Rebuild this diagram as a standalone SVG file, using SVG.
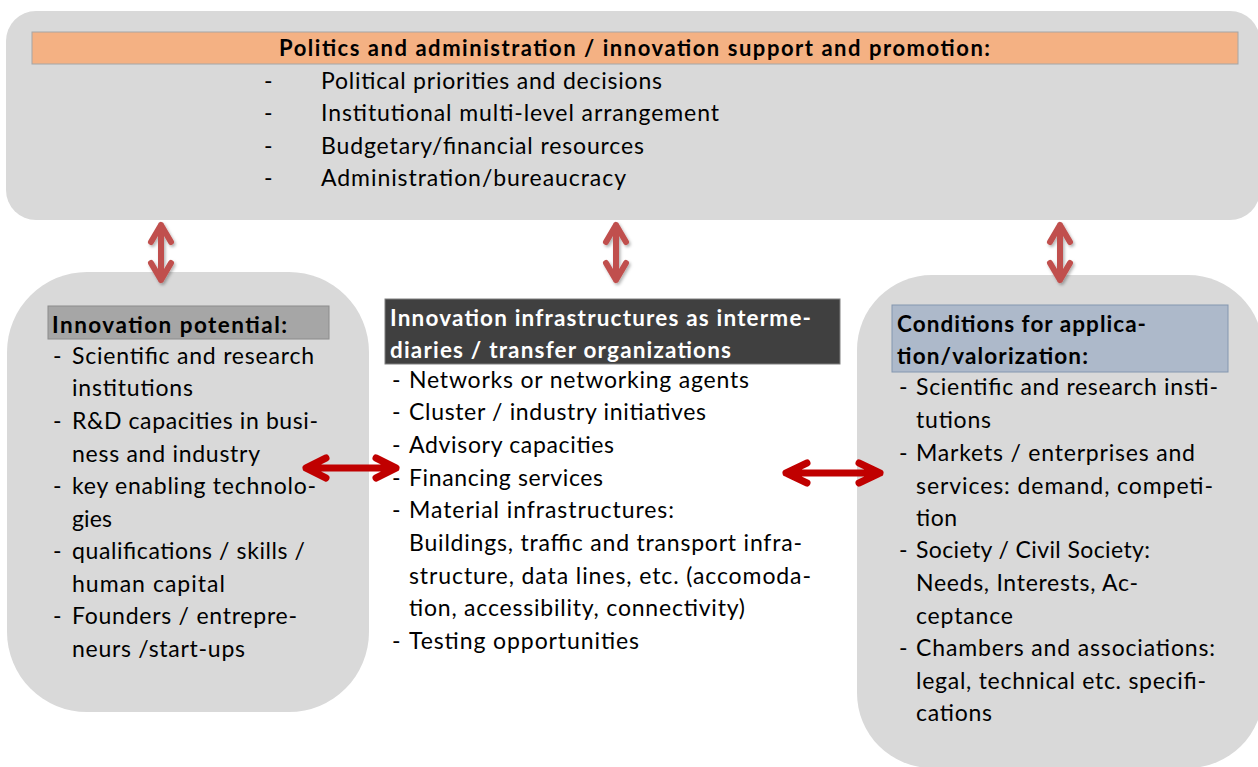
<svg xmlns="http://www.w3.org/2000/svg" width="1258" height="767" viewBox="0 0 1258 767">
<defs>
<style>
.box{fill:#d9d9d9}
.t{font-family:Lato,"Open Sans","Liberation Sans",sans-serif;font-size:23px;fill:#000}
.b{font-weight:bold;font-size:22.5px}
.w{fill:#fff}
.va{fill:none;stroke:#c0504d;stroke-width:6;stroke-linecap:round;stroke-linejoin:round}
.ha{fill:none;stroke:#c00000;stroke-width:7;stroke-linecap:round;stroke-linejoin:round}
</style>
<filter id="sh" x="-50%" y="-20%" width="200%" height="140%">
<feDropShadow dx="1.5" dy="2" stdDeviation="1.5" flood-color="#000" flood-opacity="0.3"/>
</filter>
</defs>
<rect width="1258" height="767" fill="#fff"/>

<g id="politics">
<rect class="box" x="6" y="11" width="1254" height="209" rx="30"/>
<rect x="32" y="32" width="1206" height="32" fill="#f4b183" stroke="#a6a6a6" stroke-width="1"/>
<text class="t b" x="279" y="56" style="font-size:22px" textLength="711">Politics and administration / innovation support and promotion:</text>
<text class="t" x="264" y="89">-</text>
<text class="t" x="321" y="89" textLength="341">Political priorities and decisions</text>
<text class="t" x="264" y="121">-</text>
<text class="t" x="321" y="121" textLength="398">Institutional multi-level arrangement</text>
<text class="t" x="264" y="154">-</text>
<text class="t" x="321" y="154" textLength="323">Budgetary/financial resources</text>
<text class="t" x="264" y="186">-</text>
<text class="t" x="321" y="186" textLength="305">Administration/bureaucracy</text>
</g>

<g id="potential">
<rect class="box" x="7" y="272" width="362" height="440" rx="80"/>
<rect x="48" y="306" width="281" height="33" fill="#a6a6a6" stroke="#8c8c8c" stroke-width="1"/>
<text class="t b" x="52" y="333" textLength="235">Innovation potential:</text>
<text class="t" x="53" y="364">-</text><text class="t" x="72" y="364" textLength="242">Scientific and research</text>
<text class="t" x="72" y="396" textLength="121">institutions</text>
<text class="t" x="53" y="429">-</text><text class="t" x="72" y="429" textLength="246">R&amp;D capacities in busi-</text>
<text class="t" x="72" y="462" textLength="188">ness and industry</text>
<text class="t" x="53" y="494">-</text><text class="t" x="72" y="494" textLength="244">key enabling technolo-</text>
<text class="t" x="72" y="527" textLength="40">gies</text>
<text class="t" x="53" y="559">-</text><text class="t" x="72" y="559" textLength="233">qualifications / skills /</text>
<text class="t" x="72" y="592" textLength="153">human capital</text>
<text class="t" x="53" y="624">-</text><text class="t" x="72" y="624" textLength="225">Founders / entrepre-</text>
<text class="t" x="72" y="657" textLength="173">neurs /start-ups</text>
</g>

<g id="infrastructures">
<rect x="385" y="299" width="455" height="65" fill="#404040" stroke="#7f7f7f" stroke-width="1"/>
<text class="t b w" x="390" y="326" textLength="421">Innovation infrastructures as interme-</text>
<text class="t b w" x="390" y="358" textLength="341">diaries / transfer organizations</text>
<text class="t" x="392" y="388">-</text><text class="t" x="409" y="388" textLength="340">Networks or networking agents</text>
<text class="t" x="392" y="420">-</text><text class="t" x="409" y="420" textLength="297">Cluster / industry initiatives</text>
<text class="t" x="392" y="453">-</text><text class="t" x="409" y="453" textLength="205">Advisory capacities</text>
<text class="t" x="392" y="486">-</text><text class="t" x="409" y="486" textLength="194">Financing services</text>
<text class="t" x="392" y="518">-</text><text class="t" x="409" y="518" textLength="265">Material infrastructures:</text>
<text class="t" x="409" y="551" textLength="393">Buildings, traffic and transport infra-</text>
<text class="t" x="409" y="584" textLength="402">structure, data lines, etc. (accomoda-</text>
<text class="t" x="409" y="616" textLength="336">tion, accessibility, connectivity)</text>
<text class="t" x="392" y="649">-</text><text class="t" x="409" y="649" textLength="230">Testing opportunities</text>
</g>

<g id="conditions">
<rect class="box" x="857" y="275" width="406" height="493" rx="75"/>
<rect x="892" y="305" width="336" height="67" fill="#adb9ca" stroke="#8497b0" stroke-width="1"/>
<text class="t b" x="897" y="332" textLength="249">Conditions for applica-</text>
<text class="t b" x="897" y="364" textLength="191">tion/valorization:</text>
<text class="t" x="899" y="395">-</text><text class="t" x="916" y="395" textLength="302">Scientific and research insti-</text>
<text class="t" x="916" y="428" textLength="75">tutions</text>
<text class="t" x="899" y="461">-</text><text class="t" x="916" y="461" textLength="279">Markets / enterprises and</text>
<text class="t" x="916" y="494" textLength="297">services: demand, competi-</text>
<text class="t" x="916" y="526" textLength="41">tion</text>
<text class="t" x="899" y="558">-</text><text class="t" x="916" y="558" textLength="234">Society / Civil Society:</text>
<text class="t" x="916" y="591" textLength="222">Needs, Interests, Ac-</text>
<text class="t" x="916" y="624" textLength="97">ceptance</text>
<text class="t" x="899" y="656">-</text><text class="t" x="916" y="656" textLength="299">Chambers and associations:</text>
<text class="t" x="916" y="689" textLength="290">legal, technical etc. specifi-</text>
<text class="t" x="916" y="721" textLength="76">cations</text>
</g>

<g id="connectors">
<path class="va" filter="url(#sh)" d="M161 225V280M151 242L161 225L171 242M151 263L161 280L171 263"/>
<path class="va" filter="url(#sh)" d="M616 225V280M606 242L616 225L626 242M606 263L616 280L626 263"/>
<path class="va" filter="url(#sh)" d="M1060 225V280M1050 242L1060 225L1070 242M1050 263L1060 280L1070 263"/>
<path class="ha" d="M306 468H396M326 458L306 468L326 478M376 458L396 468L376 478"/>
<path class="ha" d="M786 473H880M807 463L786 473L807 483M859 463L880 473L859 483"/>
</g>
</svg>
